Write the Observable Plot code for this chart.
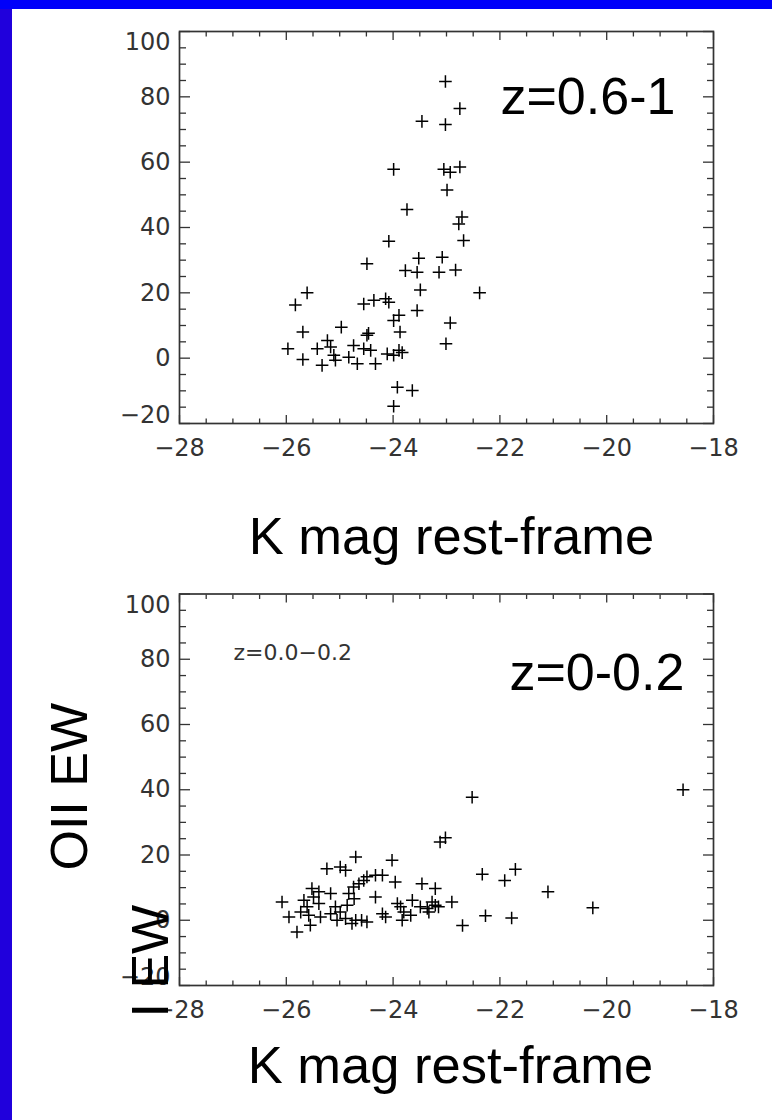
<!DOCTYPE html>
<html>
<head>
<meta charset="utf-8">
<script src="https://cdn.jsdelivr.net/npm/d3@7"></script>
<script src="https://cdn.jsdelivr.net/npm/@observablehq/plot@0.6"></script>
<style>
html, body { margin: 0; padding: 0; background: #fff; }
#page { position: relative; width: 772px; height: 1120px; overflow: hidden; background: #fff; }
.panel { position: absolute; left: 0; width: 772px; }
#p1 { top: 0; z-index: 2; }
#p2 { top: 560px; z-index: 1; }
.band { position: absolute; z-index: 5; }
</style>
</head>
<body>
<div id="page">
  <div id="p1" class="panel"></div>
  <div id="p2" class="panel"></div>
  <div class="band" style="left:0;top:0;width:12px;height:1120px;background:#2000dc"></div>
  <div class="band" style="left:0;top:0;width:772px;height:9px;background:#0000fa"></div>
</div>
<script>
// ---------- data ----------
const kmagHighZ = [-23.02, -22.75, -23.46, -23.02, -23.99, -23.05, -22.93, -22.75, -22.99, -23.74,
  -22.71, -22.77, -22.68, -24.08, -24.49, -23.52, -23.08, -23.77, -23.55, -23.14,
  -22.83, -23.49, -22.38, -25.83, -25.61, -24.55, -24.36, -24.14, -24.08, -23.55,
  -23.99, -23.89, -22.93, -23.87, -25.69, -24.97, -23.01, -25.97, -25.69, -25.42,
  -25.33, -25.23, -25.17, -25.11, -25.08, -24.74, -24.83, -24.67, -24.49, -24.46,
  -24.55, -24.42, -24.33, -24.11, -23.99, -23.89, -23.83, -23.92, -23.64, -23.99];
const ewHighZ = [84.7, 76.4, 72.5, 71.5, 57.8, 57.8, 56.9, 58.5, 51.5, 45.5,
  43.2, 41.1, 36.0, 35.8, 28.9, 30.6, 30.9, 26.8, 26.3, 26.3,
  27.0, 20.9, 20.0, 16.3, 20.0, 16.6, 17.7, 18.2, 17.1, 14.6,
  11.5, 13.1, 10.8, 8.0, 8.0, 9.5, 4.4, 2.9, -0.4, 2.9,
  -2.2, 5.4, 3.4, 0.9, -0.6, 3.9, 0.3, -1.7, 7.0, 7.6,
  2.9, 2.4, -1.7, 1.3, 0.9, 2.4, 1.7, -8.9, -9.9, -14.7];

const kmagLowZ = [-22.52, -23.12, -23.02, -22.33, -22.27, -22.70, -22.90, -26.08, -25.95, -25.80,
  -25.67, -25.61, -25.58, -25.55, -25.73, -25.52, -25.49, -25.39, -25.39, -25.36,
  -25.24, -25.17, -25.17, -24.99, -24.89, -25.08, -25.05, -24.99, -24.86, -24.89,
  -24.70, -24.83, -24.74, -24.73, -24.70, -24.77, -24.64, -24.55, -24.49, -24.59,
  -24.49, -24.33, -24.20, -24.33, -24.20, -24.14, -24.02, -23.96, -23.92, -23.86,
  -23.83, -23.80, -23.67, -23.64, -23.49, -23.46, -23.36, -23.33, -23.21, -23.27,
  -23.21, -23.15, -18.57, -21.91, -21.71, -21.10, -20.26, -21.78];
const ewLowZ = [37.7, 24.0, 25.3, 14.1, 1.4, -1.6, 5.6, 5.6, 1.0, -3.6,
  6.1, 4.1, 1.5, -1.5, 2.5, 9.7, 7.1, 8.7, 5.1, 1.0,
  15.8, 8.2, 2.0, 16.3, 15.3, 4.1, 0.0, 2.5, 4.6, 0.5,
  19.4, 8.2, 10.2, 6.6, 0.0, -1.0, 11.2, 12.2, 13.3, 0.0,
  -0.5, 13.8, 13.8, 7.1, 2.0, 1.0, 18.4, 11.7, 5.1, 4.1,
  0.0, 2.5, 1.5, 6.1, 4.1, 11.2, 3.6, 2.5, 9.7, 5.6,
  4.6, 4.1, 40.0, 12.2, 15.6, 8.7, 3.8, 0.7];

const xDomain = [-28, -18];
const yDomain = [-20, 100];
const xMajorTicks = [-28, -26, -24, -22, -20, -18];
const xMinorTicks = [-27.5, -27, -26.5, -25.5, -25, -24.5, -23.5, -23, -22.5, -21.5, -21, -20.5, -19.5, -19, -18.5];
const yMajorTicks = [-20, 0, 20, 40, 60, 80, 100];
const yMiddleLabels = [0, 20, 40, 60, 80];
const yTopLabel = [100];
const yBottomLabel = [-20];
const yMinorTicks = [-15, -10, -5, 5, 10, 15, 25, 30, 35, 45, 50, 55, 65, 70, 75, 85, 90, 95];

const xLabel = "K mag rest-frame";
const yLabel = "OII EW";
const yLabelFragment = "I EW";
const titleHighZ = "z=0.6-1";
const titleLowZ = "z=0-0.2";
const noteLowZ = "z=0.0\u22120.2";

// ---------- helpers ----------
const ink = "#333";
const tickFont = "DejaVu Sans";
const bigFont = "Liberation Sans, Arial, sans-serif";
const fmt = d3.format("d");

const plusSymbol = {
  draw(context, size) {
    const r = Math.sqrt(size / Math.PI);
    context.moveTo(-r, 0); context.lineTo(r, 0);
    context.moveTo(0, -r); context.lineTo(0, r);
  }
};

function frameMarks() {
  const tk = {label: null, fill: "none", stroke: ink, strokeWidth: 1.3};
  const tx = {label: null, tickSize: 0, fontSize: 24, fontFamily: tickFont, fill: ink, tickFormat: fmt};
  return [
    Plot.frame({stroke: ink, strokeWidth: 1.7}),
    Plot.axisX({anchor: "bottom", ticks: xMajorTicks, tickSize: -8, ...tk}),
    Plot.axisX({anchor: "bottom", ticks: xMinorTicks, tickSize: -4.5, ...tk}),
    Plot.axisX({anchor: "top", ticks: xMajorTicks, tickSize: -8, ...tk}),
    Plot.axisX({anchor: "top", ticks: xMinorTicks, tickSize: -4.5, ...tk}),
    Plot.axisY({anchor: "left", ticks: yMajorTicks, tickSize: -11, ...tk}),
    Plot.axisY({anchor: "left", ticks: yMinorTicks, tickSize: -7, ...tk}),
    Plot.axisY({anchor: "right", ticks: yMajorTicks, tickSize: -11, ...tk}),
    Plot.axisY({anchor: "right", ticks: yMinorTicks, tickSize: -7, ...tk}),
    Plot.axisX({anchor: "bottom", ticks: xMajorTicks, tickPadding: 15, ...tx}),
    Plot.axisY({anchor: "left", ticks: yMiddleLabels, tickPadding: 9, ...tx}),
    Plot.axisY({anchor: "left", ticks: yTopLabel, tickPadding: 9, dy: 11, ...tx}),
    Plot.axisY({anchor: "left", ticks: yBottomLabel, tickPadding: 9, dy: -8, ...tx})
  ];
}

function points(kmag, ew) {
  return kmag.map((k, i) => ({k, ew: ew[i]}));
}

// ---------- panel 1: z = 0.6-1 ----------
const plot1 = Plot.plot({
  width: 772,
  height: 560,
  marginLeft: 179,
  marginRight: 59,
  marginTop: 31,
  marginBottom: 137,
  style: {background: "transparent", overflow: "visible"},
  x: {domain: xDomain},
  y: {domain: yDomain},
  marks: [
    ...frameMarks(),
    Plot.dot(points(kmagHighZ, ewHighZ), {x: "k", y: "ew", symbol: plusSymbol, r: 6.3, stroke: "#000", strokeWidth: 1.5, fill: "none"}),
    Plot.text([titleHighZ], {frameAnchor: "top-left", textAnchor: "start", lineAnchor: "bottom", dx: 321, dy: 82, fontSize: 52, fontFamily: bigFont, fill: "black"}),
    Plot.text([xLabel], {frameAnchor: "bottom", textAnchor: "middle", lineAnchor: "bottom", dx: 5, dy: 130, fontSize: 52.5, fontFamily: bigFont, fill: "black"})
  ]
});
document.getElementById("p1").appendChild(plot1);

// ---------- panel 2: z = 0-0.2 ----------
const plot2 = Plot.plot({
  width: 772,
  height: 560,
  marginLeft: 179,
  marginRight: 59,
  marginTop: 33.5,
  marginBottom: 135,
  style: {background: "transparent", overflow: "visible"},
  x: {domain: xDomain},
  y: {domain: yDomain},
  marks: [
    ...frameMarks(),
    Plot.dot(points(kmagLowZ, ewLowZ), {x: "k", y: "ew", symbol: plusSymbol, r: 6.3, stroke: "#000", strokeWidth: 1.5, fill: "none"}),
    Plot.text([noteLowZ], {frameAnchor: "top-left", textAnchor: "start", lineAnchor: "middle", dx: 54, dy: 59, fontSize: 22, fontFamily: tickFont, fill: ink}),
    Plot.text([titleLowZ], {frameAnchor: "top-left", textAnchor: "start", lineAnchor: "bottom", dx: 330, dy: 96, fontSize: 52, fontFamily: bigFont, fill: "black"}),
    Plot.text([xLabel], {frameAnchor: "bottom", textAnchor: "middle", lineAnchor: "bottom", dx: 4, dy: 97, fontSize: 52.5, fontFamily: bigFont, fill: "black"}),
    Plot.text([yLabel], {frameAnchor: "left", textAnchor: "middle", lineAnchor: "middle", rotate: -90, dx: -109, dy: -3, fontSize: 52, fontFamily: bigFont, fill: "black"}),
    Plot.text([yLabelFragment], {frameAnchor: "bottom-left", textAnchor: "start", lineAnchor: "middle", rotate: -90, dx: -28, dy: 32, fontSize: 52, fontFamily: bigFont, fill: "black"})
  ]
});
document.getElementById("p2").appendChild(plot2);
</script>
</body>
</html>
